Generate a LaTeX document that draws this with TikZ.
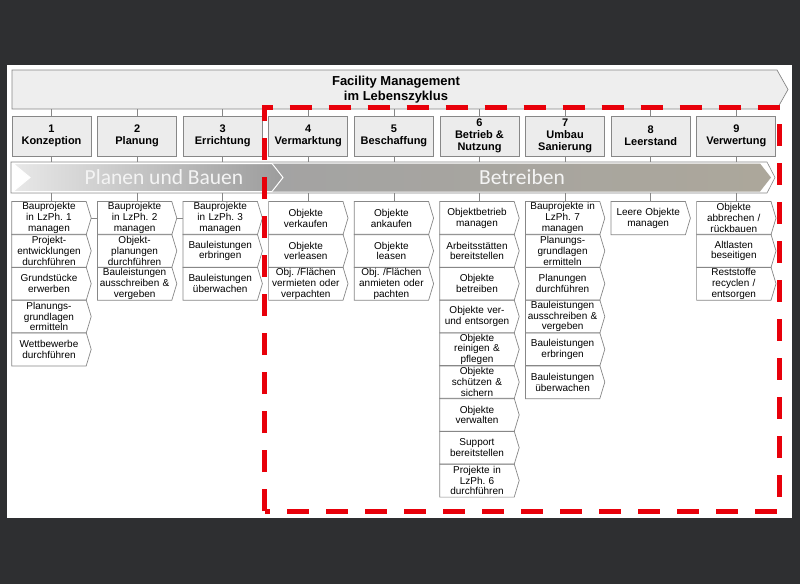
\documentclass[tikz,border=0pt]{standalone}
\usepackage{fontspec}
\setmainfont{Liberation Sans}
\newfontfamily\bandfont{Carlito}
\frenchspacing
\definecolor{bgdark}{RGB}{46,47,49}
\definecolor{bxgray}{RGB}{135,135,135}
\definecolor{phfill}{RGB}{236,236,236}
\definecolor{bnfill}{RGB}{238,238,238}
\definecolor{plL}{RGB}{232,232,232}
\definecolor{plR}{RGB}{156,156,156}
\definecolor{betL}{RGB}{163,163,163}
\definecolor{betR}{RGB}{172,167,155}
\definecolor{bandtxt}{RGB}{244,244,244}
\definecolor{redc}{RGB}{232,0,10}
\tikzset{
  boxline/.style={draw=bxgray, line width=0.7pt},
  phase/.style={boxline, fill=phfill, minimum width=79pt, minimum height=40pt, inner sep=0pt, align=center, font=\bfseries\fontsize{11}{12.2}\selectfont},
  acttext/.style={minimum width=74pt, minimum height=32.8pt, inner sep=0pt, align=center, text width=74pt, font=\fontsize{10}{10.8}\selectfont},
  actshape/.style={boxline},
  tick/.style={draw=bxgray, line width=0.7pt},
  bandlabel/.style={text=bandtxt, font=\bandfont\fontsize{21.5}{24}\selectfont, inner sep=0pt},
  redbox/.style={draw=redc, line width=5pt, dash pattern=on 22pt off 17pt},
}
\newcommand\actbox[4]{%
  \pgfmathsetmacro\axl{12+(#2-1)*85.6}%
  \pgfmathsetmacro\ayt{201.7+(#3-1)*32.8}%
  \node[acttext] (#1) at (\axl+37,\ayt+16.4) {#4};
  \draw[actshape] (#1.north west) -- (#1.north east) -- ([xshift=5pt]#1.east) -- (#1.south east) -- (#1.south west) -- cycle;
}
\begin{document}
\begin{tikzpicture}[x=1pt,y=-1pt]
\fill[bgdark] (0,0) rectangle (800,584);
\useasboundingbox (0,0) rectangle (800,584);
\fill[white] (7,65) rectangle (792,518);

% banner
\draw[boxline, fill=bnfill] (12,70) -- (777,70) -- (788,89.5) -- (777,109) -- (12,109) -- cycle;
\node[minimum width=760pt, minimum height=39pt, inner sep=0pt, align=center, font=\bfseries\fontsize{13}{15}\selectfont] (banner) at (396,89.5) {Facility Management\\im Lebenszyklus};

% phases
\node[phase] (p1) at (51.5,136) {1\\Konzeption};
\node[phase] (p2) at (137.1,136) {2\\Planung};
\node[phase] (p3) at (222.7,136) {3\\Errichtung};
\node[phase] (p4) at (308.3,136) {4\\Vermarktung};
\node[phase] (p5) at (393.9,136) {5\\Beschaffung};
\node[phase] (p6) at (479.5,136) {6\\Betrieb \&\\Nutzung};
\node[phase] (p7) at (565.1,136) {7\\Umbau\\Sanierung};
\node[phase] (p8) at (650.7,136) {8\\Leerstand};
\node[phase] (p9) at (736.3,136) {9\\Verwertung};

% band
\draw[draw=bxgray, fill=white, line width=0.6pt] (11,162) -- (767,162) -- (775,177.5) -- (767,193) -- (11,193) -- cycle;
\path[left color=betL, right color=betR] (262,163.5) -- (760,163.5) -- (771,177.5) -- (760,191.5) -- (262,191.5) -- cycle;
\path[left color=plL, right color=plR, draw=white, line width=1pt] (13,163.5) -- (272,163.5) -- (283,177.5) -- (272,191.5) -- (13,191.5) -- (30,177.5) -- cycle;
\node[bandlabel] (lplan) at (164,177.5) {Planen und Bauen};
\node[bandlabel] (lbetr) at (522,177.5) {Betreiben};
\coordinate (bandtop) at (0,162);
\coordinate (bandbot) at (0,193);

% activities
\actbox{a1-1}{1}{1}{Bauprojekte\\in LzPh. 1\\managen}
\actbox{a1-2}{1}{2}{Projekt-\\entwicklungen\\durchführen}
\actbox{a1-3}{1}{3}{Grundstücke\\erwerben}
\actbox{a1-4}{1}{4}{Planungs-\\grundlagen\\ermitteln}
\actbox{a1-5}{1}{5}{Wettbewerbe\\durchführen}

\actbox{a2-1}{2}{1}{Bauprojekte\\in LzPh. 2\\managen}
\actbox{a2-2}{2}{2}{Objekt-\\planungen\\durchführen}
\actbox{a2-3}{2}{3}{Bauleistungen\\ausschreiben \&\\vergeben}

\actbox{a3-1}{3}{1}{Bauprojekte\\in LzPh. 3\\managen}
\actbox{a3-2}{3}{2}{Bauleistungen\\erbringen}
\actbox{a3-3}{3}{3}{Bauleistungen\\überwachen}

\actbox{a4-1}{4}{1}{Objekte\\verkaufen}
\actbox{a4-2}{4}{2}{Objekte\\verleasen}
\actbox{a4-3}{4}{3}{Obj. /Flächen\\vermieten oder\\verpachten}

\actbox{a5-1}{5}{1}{Objekte\\ankaufen}
\actbox{a5-2}{5}{2}{Objekte\\leasen}
\actbox{a5-3}{5}{3}{Obj. /Flächen\\anmieten oder\\pachten}

\actbox{a6-1}{6}{1}{Objektbetrieb\\managen}
\actbox{a6-2}{6}{2}{Arbeitsstätten\\bereitstellen}
\actbox{a6-3}{6}{3}{Objekte\\betreiben}
\actbox{a6-4}{6}{4}{Objekte ver-\\und entsorgen}
\actbox{a6-5}{6}{5}{Objekte\\reinigen \&\\pflegen}
\actbox{a6-6}{6}{6}{Objekte\\schützen \&\\sichern}
\actbox{a6-7}{6}{7}{Objekte\\verwalten}
\actbox{a6-8}{6}{8}{Support\\bereitstellen}
\actbox{a6-9}{6}{9}{Projekte in\\LzPh. 6\\durchführen}

\actbox{a7-1}{7}{1}{Bauprojekte in\\LzPh. 7\\managen}
\actbox{a7-2}{7}{2}{Planungs-\\grundlagen\\ermitteln}
\actbox{a7-3}{7}{3}{Planungen\\durchführen}
\actbox{a7-4}{7}{4}{Bauleistungen\\ausschreiben \&\\vergeben}
\actbox{a7-5}{7}{5}{Bauleistungen\\erbringen}
\actbox{a7-6}{7}{6}{Bauleistungen\\überwachen}

\actbox{a8-1}{8}{1}{Leere Objekte\\managen}

\actbox{a9-1}{9}{1}{Objekte\\abbrechen /\\rückbauen}
\actbox{a9-2}{9}{2}{Altlasten\\beseitigen}
\actbox{a9-3}{9}{3}{Reststoffe\\recyclen /\\entsorgen}

% ticks
\foreach \i in {1,...,9}{
  \draw[tick] (p\i.north) -- (p\i.north |- banner.south);
  \draw[tick] (p\i.south) -- (p\i.south |- bandtop);
  \draw[tick] (p\i.south |- bandbot) -- (p\i.south |- a\i-1.north);
}
\draw[tick] ([xshift=5pt]a1-1.east) -- (a2-1.west);
\draw[tick] ([xshift=5pt]a2-1.east) -- (a3-1.west);

% red frame
\draw[redbox] (264.5,511) -- (264.5,107) -- (779.5,107) -- (779.5,511) -- cycle;
\end{tikzpicture}
\end{document}
